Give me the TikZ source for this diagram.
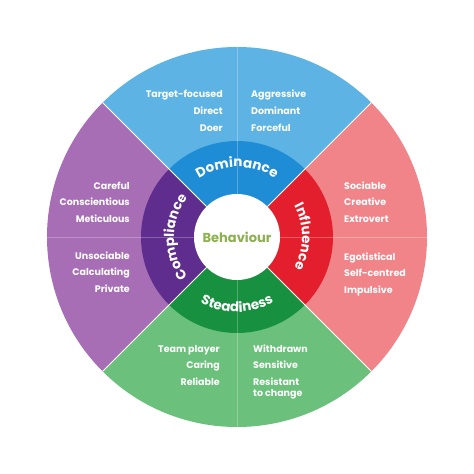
\documentclass[tikz,border=0pt]{standalone}
\usepackage{fontspec}
\setmainfont{Poppins}
\usetikzlibrary{decorations.text}
\definecolor{domL}{HTML}{5DB3E3}
\definecolor{domD}{HTML}{1F8DD6}
\definecolor{infL}{HTML}{F08489}
\definecolor{infD}{HTML}{E31E2D}
\definecolor{stL}{HTML}{6BC07B}
\definecolor{stD}{HTML}{17903F}
\definecolor{coL}{HTML}{A76EB6}
\definecolor{coD}{HTML}{5F2D8E}
\definecolor{behav}{HTML}{8DB14F}
\begin{document}
\begin{tikzpicture}[x=1pt,y=1pt,
  trait/.style={text=white, font=\bfseries\fontsize{9.5}{11}\selectfont, inner sep=0pt},
  tl/.style={trait, anchor=base east},
  tr/.style={trait, anchor=base west},
  divider/.style={white, line width=1pt},
  faint/.style={white, opacity=0.25, line width=0.8pt},
  ringtext/.style={decorate, decoration={text along path, text align=center, text color=white}}]
\useasboundingbox[fill=white] (-237,-237) rectangle (237,237);
% outer sectors
\fill[domL] (0,0) -- (45:190) arc[start angle=45,end angle=135,radius=190] -- cycle;
\fill[coL] (0,0) -- (135:190) arc[start angle=135,end angle=225,radius=190] -- cycle;
\fill[stL] (0,0) -- (225:190) arc[start angle=225,end angle=315,radius=190] -- cycle;
\fill[infL] (0,0) -- (-45:190) arc[start angle=-45,end angle=45,radius=190] -- cycle;
% inner ring
\fill[domD] (0,0) -- (45:96) arc[start angle=45,end angle=135,radius=96] -- cycle;
\fill[coD] (0,0) -- (135:96) arc[start angle=135,end angle=225,radius=96] -- cycle;
\fill[stD] (0,0) -- (225:96) arc[start angle=225,end angle=315,radius=96] -- cycle;
\fill[infD] (0,0) -- (-45:96) arc[start angle=-45,end angle=45,radius=96] -- cycle;
% faint inner dividers
\foreach \a in {0,90,180,270} \draw[faint] (\a:43) -- (\a:190);
% white diagonals
\foreach \a in {45,135,225,315} \draw[divider] (\a:43) -- (\a:190);
% centre
\fill[white] (0,0) circle[radius=43];
\node[text=behav, font=\bfseries\fontsize{13}{13}\selectfont, inner sep=0pt] (behaviour) at (0,0) {Behaviour};
% ring labels
\path[ringtext, decoration={text={|\bfseries\fontsize{13.5}{13.5}\selectfont|Dominance}}]
  (160:70) arc[start angle=160,end angle=20,radius=70];
\path[ringtext, decoration={text={|\bfseries\fontsize{13.5}{13.5}\selectfont|Influence}}]
  (70:65) arc[start angle=70,end angle=-70,radius=65];
\path[ringtext, decoration={text={|\bfseries\fontsize{13.5}{13.5}\selectfont|Compliance}}]
  (250:63) arc[start angle=250,end angle=110,radius=63];
\path[ringtext, decoration={text={|\bfseries\fontsize{13.5}{13.5}\selectfont|Steadiness}}]
  (200:75) arc[start angle=200,end angle=340,radius=75];
% Dominance traits
\node[tl] (d1) at (-14,139.5) {Target-focused};
\node[tl] (d2) at (-14,122.5) {Direct};
\node[tl] (d3) at (-14,105.5) {Doer};
\node[tr] (d4) at (14,139.5) {Aggressive};
\node[tr] (d5) at (14,122.5) {Dominant};
\node[tr] (d6) at (14,105.5) {Forceful};
% Compliance traits
\node[tl] (c1) at (-107,47.5) {Careful};
\node[tl] (c2) at (-107,31.5) {Conscientious};
\node[tl] (c3) at (-107,14.5) {Meticulous};
\node[tl] (c4) at (-107,-22.5) {Unsociable};
\node[tl] (c5) at (-107,-38.5) {Calculating};
\node[tl] (c6) at (-107,-55.5) {Private};
% Influence traits
\node[tr] (i1) at (107,47.5) {Sociable};
\node[tr] (i2) at (107,31.5) {Creative};
\node[tr] (i3) at (107,14.5) {Extrovert};
\node[tr] (i4) at (107,-23.5) {Egotistical};
\node[tr] (i5) at (107,-39.5) {Self-centred};
\node[tr] (i6) at (107,-56.5) {Impulsive};
% Steadiness traits
\node[tl] (s1) at (-17,-115.5) {Team player};
\node[tl] (s2) at (-17,-131.5) {Caring};
\node[tl] (s3) at (-17,-148.5) {Reliable};
\node[tr] (s4) at (16,-115.5) {Withdrawn};
\node[tr] (s5) at (16,-131.5) {Sensitive};
\node[tr] (s6) at (16,-148.5) {Resistant};
\node[tr] (s7) at (16,-159) {to change};
\end{tikzpicture}
\end{document}
